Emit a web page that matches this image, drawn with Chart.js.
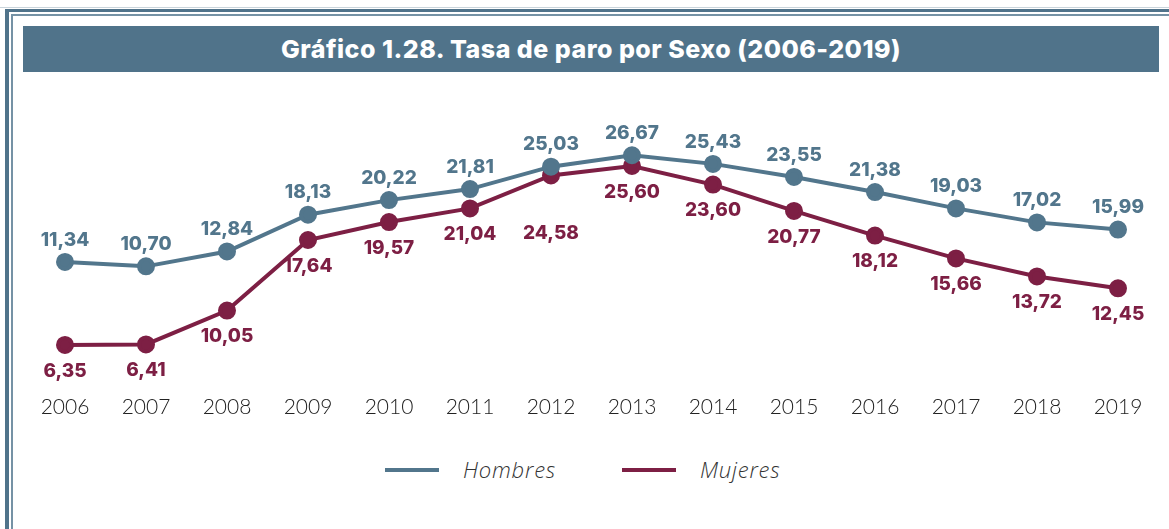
<!DOCTYPE html>
<html>
<head>
<meta charset="utf-8">
<script src="https://cdn.jsdelivr.net/npm/chart.js@4.4.1/dist/chart.umd.min.js"></script>
<style>
  html, body { margin: 0; padding: 0; background: #fff; }
  body { width: 1169px; height: 529px; position: relative; overflow: hidden; font-family: "Inter", "Open Sans", sans-serif; }
  .frame1 { position: absolute; left: 5px; top: 9px; width: 1200px; height: 600px; border-top: 3px solid #50738a; border-left: 4px solid #50738a; }
  .frame0 { position: absolute; left: 0; top: 7px; width: 1200px; border-top: 1px solid #c9d4db; }
  .frame2 { position: absolute; left: 11px; top: 14px; width: 1200px; height: 600px; border-top: 2px solid #7592a5; border-left: 2px solid #7592a5; }
  .title { position: absolute; left: 23px; top: 26px; width: 1136px; height: 46px; background: #50738a; color: #fff;
           font-weight: 800; font-size: 25px; line-height: 46px; text-align: center; letter-spacing: 0.5px; }
  #wrap { position: absolute; left: 0; top: 80px; width: 1169px; height: 345px; }
  .legend { position: absolute; top: 455px; left: 0; width: 1169px; height: 28px; }
  .item { position: absolute; top: 0; height: 28px; }
  .item .line { position: absolute; left: 0; top: 13px; width: 54px; height: 4px; }
  .item .txt { position: absolute; left: 78px; top: 0; line-height: 28px; font-family: "Open Sans", sans-serif; font-style: italic;
               font-weight: 300; font-size: 22px; letter-spacing: 0.8px; color: #333; white-space: nowrap; }
</style>
</head>
<body>
<div class="frame0"></div>
<div class="frame1"></div>
<div class="frame2"></div>
<div class="title">Gráfico 1.28. Tasa de paro por Sexo (2006-2019)</div>
<div id="wrap"><canvas id="myChart"></canvas></div>
<div class="legend" id="legend"></div>
<script>
var years = ["2006", "2007", "2008", "2009", "2010", "2011", "2012", "2013", "2014", "2015", "2016", "2017", "2018", "2019"];
var hombres = [11.34, 10.70, 12.84, 18.13, 20.22, 21.81, 25.03, 26.67, 25.43, 23.55, 21.38, 19.03, 17.02, 15.99];
var mujeres = [6.35, 6.41, 10.05, 17.64, 19.57, 21.04, 24.58, 25.60, 23.60, 20.77, 18.12, 15.66, 13.72, 12.45];
var seriesNames = ["Hombres", "Mujeres"];
var colorH = "#52768c";
var colorM = "#7d1f44";

// values printed next to each point, spanish decimal comma
const pointLabels = {
  id: "pointLabels",
  afterDatasetsDraw(chart) {
    const ctx = chart.ctx;
    ctx.save();
    ctx.font = "800 19px Inter, 'Open Sans', sans-serif";
    ctx.textAlign = "center";
    ctx.textBaseline = "middle";
    chart.data.datasets.forEach((ds, i) => {
      const meta = chart.getDatasetMeta(i);
      ctx.fillStyle = ds.borderColor;
      meta.data.forEach((pt, j) => {
        const txt = ds.data[j].toFixed(2).replace(".", ",");
        let dy = i === 0 ? -22 : 26;
        if (i === 1 && j === 6) dy = 58;
        ctx.fillText(txt, pt.x, pt.y + dy);
      });
    });
    ctx.restore();
  }
};

const ctx = document.getElementById("myChart").getContext("2d");
const myChart = new Chart(ctx, {
  type: "line",
  data: {
    labels: years,
    datasets: [{
      label: seriesNames[0],
      data: hombres,
      yAxisID: "yH",
      borderColor: colorH,
      backgroundColor: colorH,
      borderWidth: 4,
      pointRadius: 7,
      pointHoverRadius: 7,
      tension: 0
    }, {
      label: seriesNames[1],
      data: mujeres,
      yAxisID: "yM",
      borderColor: colorM,
      backgroundColor: colorM,
      borderWidth: 4,
      pointRadius: 7,
      pointHoverRadius: 7,
      tension: 0
    }]
  },
  options: {
    responsive: true,
    maintainAspectRatio: false,
    animation: false,
    layout: { padding: { left: 65, right: 51, top: 50, bottom: 0 } },
    plugins: { legend: { display: false }, tooltip: { enabled: false } },
    scales: {
      x: {
        offset: false,
        grid: { display: false },
        border: { display: false },
        ticks: {
          padding: 17,
          color: "#222",
          maxRotation: 0,
          font: { family: "Lato", size: 21, weight: 300 }
        },
        afterFit(scale) { scale.height = 55; }
      },
      yH: { display: false, min: -4.2, max: 30.3 },
      yM: { display: false, min: 3.66, max: 29.47 }
    }
  },
  plugins: [pointLabels]
});

// html legend
const legend = document.getElementById("legend");
myChart.data.datasets.forEach((ds, i) => {
  const item = document.createElement("div");
  item.className = "item";
  item.style.left = (385 + i * 237) + "px";
  item.innerHTML = '<div class="line" style="background:' + ds.borderColor + '"></div><div class="txt">' + ds.label + "</div>";
  legend.appendChild(item);
});
</script>
</body>
</html>
